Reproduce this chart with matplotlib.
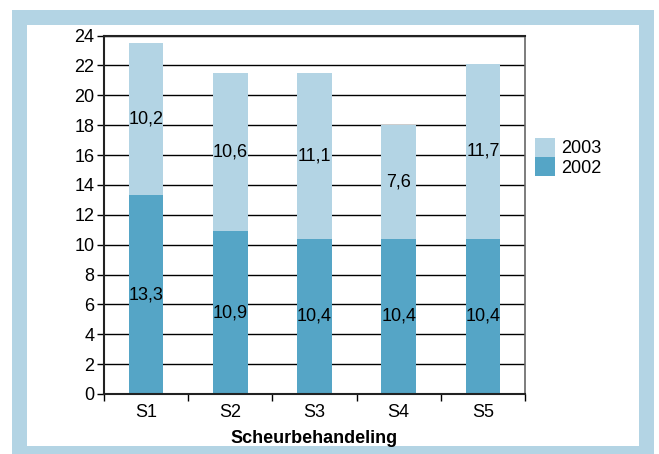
import numpy as np
import matplotlib
matplotlib.use('Agg')
import matplotlib.pyplot as plt
from matplotlib.patches import Rectangle

plt.rcParams['font.family'] = ['Liberation Sans', 'DejaVu Sans']

categories = ['S1', 'S2', 'S3', 'S4', 'S5']
val_2002 = [13.3, 10.9, 10.4, 10.4, 10.4]
val_2003 = [10.2, 10.6, 11.1, 7.6, 11.7]
lab_2002 = ['13,3', '10,9', '10,4', '10,4', '10,4']
lab_2003 = ['10,2', '10,6', '11,1', '7,6', '11,7']

c_light = '#b3d4e4'
c_dark = '#55a5c6'
W, H = 659, 454
fs = 13

fig = plt.figure(figsize=(6.59, 4.54), dpi=100)
# light blue frame around the chart
fig.patches.append(Rectangle((12 / W, 0), 642 / W, 444 / H, transform=fig.transFigure,
                             facecolor=c_light, edgecolor='none', zorder=-10))
fig.patches.append(Rectangle((27 / W, 8 / H), 612 / W, 421 / H, transform=fig.transFigure,
                             facecolor='white', edgecolor='none', zorder=-9))

ax = fig.add_axes([104 / W, 60 / H, 421 / W, 358.5 / H])
ax.set_facecolor('none')

x = np.arange(len(categories))
b1 = ax.bar(x, val_2002, width=0.41, color=c_dark, label='2002', zorder=2)
b2 = ax.bar(x, val_2003, width=0.41, bottom=val_2002, color=c_light, label='2003', zorder=2)

for i in range(len(categories)):
    ax.text(x[i], val_2002[i] / 2, lab_2002[i], ha='center', va='center', fontsize=fs, zorder=3)
    ax.text(x[i], val_2002[i] + val_2003[i] / 2, lab_2003[i], ha='center', va='center',
            fontsize=fs, zorder=3)

ax.set_xlim(-0.5, 4.5)
ax.set_ylim(0, 24)
ax.set_yticks(np.arange(0, 25, 2))
ax.yaxis.grid(True, color='black', linewidth=1, zorder=0)
ax.set_axisbelow(True)
ax.set_xticks(x)
ax.set_xticklabels(categories)
ax.set_xticks(np.arange(-0.5, 5, 1), minor=True)
ax.tick_params(axis='x', which='major', length=0, labelsize=fs, pad=7)
ax.tick_params(axis='x', which='minor', length=5, width=1)
ax.tick_params(axis='y', length=5, width=1, labelsize=fs, pad=2)
for s in ['left', 'bottom', 'top']:
    ax.spines[s].set_linewidth(1.5)
    ax.spines[s].set_color('#222222')
ax.spines['right'].set_color('#666666')
ax.spines['right'].set_linewidth(1.2)

ax.set_xlabel('Scheurbehandeling', fontsize=fs, fontweight='bold', labelpad=7)

fig.legend(handles=[b2, b1], labels=['2003', '2002'], loc='upper left',
           bbox_to_anchor=(535 / W, (H - 138) / H), frameon=False, borderpad=0,
           borderaxespad=0, handlelength=1.1, handleheight=1.2, handletextpad=0.35,
           labelspacing=0.0, fontsize=fs)

fig.savefig('out.png', dpi=100)
